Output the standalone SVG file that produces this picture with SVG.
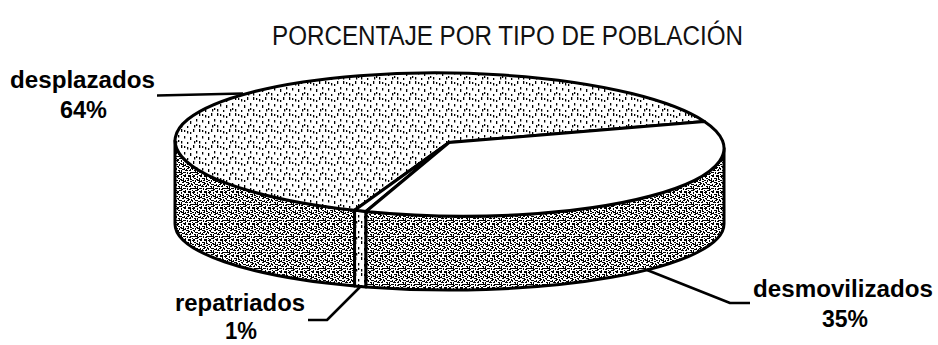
<svg xmlns="http://www.w3.org/2000/svg" width="938" height="345" viewBox="0 0 938 345">
<style>
.shape{stroke:#000;stroke-width:3;stroke-linejoin:round}
.lead{fill:none;stroke:#000;stroke-width:2.5;stroke-linejoin:round}
.lbl{font-family:"Liberation Sans",Arial,sans-serif;font-weight:bold;font-size:23px;fill:#000}
.title{font-family:"Liberation Sans",Arial,sans-serif;font-size:27px;fill:#111}
</style>
<defs>
<pattern id="dots" width="18" height="16" patternUnits="userSpaceOnUse">
<rect width="18" height="16" fill="#fff"/>
<path fill="#000" d="M1 1h1.3v3h-1.3z M7 3h1.3v2.5h-1.3z M13 1h1.3v3h-1.3z M4 8h1.3v2.5h-1.3z M10 9h1.3v3h-1.3z M16 7h1.3v2.5h-1.3z M1 13h1.3v2.5h-1.3z M7 14h1.3v2h-1.3z M14 13h1.3v2.5h-1.3z M10 4h1.3v2h-1.3z M16 12h1.3v2h-1.3z M4 2h1.3v2h-1.3z"/>
</pattern>
<pattern id="noise" width="16" height="16" patternUnits="userSpaceOnUse">
<rect width="16" height="16" fill="#fff"/>
<path fill="#000" d="M0 0h3v1h-3z M5 0h1v2h-1z M8 0h2v1h-2z M12 0h3v1h-3z M2 2h2v1h-2z M7 2h1v2h-1z M10 2h3v1h-3z M14 1h1v3h-1z M0 4h2v1h-2z M3 4h1v2h-1z M5 4h3v1h-3z M9 4h1v2h-1z M11 4h2v1h-2z M1 6h2v1h-2z M6 6h2v1h-2z M10 6h3v1h-3z M14 5h2v1h-2z M0 8h1v2h-1z M3 8h3v1h-3z M8 8h1v2h-1z M11 8h2v1h-2z M15 7h1v2h-1z M2 10h2v1h-2z M5 10h1v2h-1z M9 10h3v1h-3z M13 10h2v1h-2z M0 12h3v1h-3z M7 12h2v1h-2z M11 12h1v2h-1z M14 12h2v1h-2z M3 14h3v1h-3z M6 13h1v1h-1z M9 14h1v2h-1z M12 15h3v1h-3z M1 15h2v1h-2z M1 1h1v1h-1z M4 3h2v1h-2z M12 3h1v1h-1z M7 5h2v1h-2z M2 7h1v1h-1z M12 7h2v1h-2z M6 9h2v1h-2z M10 9h1v1h-1z M14 9h1v1h-1z M3 11h1v2h-1z M9 12h1v1h-1z M5 13h1v1h-1z M13 13h2v1h-2z M7 15h2v1h-2z M0 14h1v1h-1z M15 3h1v1h-1z M4 12h2v1h-2z"/>
</pattern>
</defs>
<rect width="938" height="345" fill="#fff"/>
<text class="title" x="507.5" y="45" text-anchor="middle" textLength="471" lengthAdjust="spacingAndGlyphs">PORCENTAJE POR TIPO DE POBLACIÓN</text>

<g id="slice-desplazados">
<path class="shape" fill="url(#noise)" d="M354.6,210.3 A274.5,71.5 0.85 0 1 175,140.7 L175,224 A274.5,66 0 0 0 354.6,285.9 Z"/>
<path class="shape" fill="url(#dots)" d="M449,142.5 L354.6,210.3 A274.5,71.5 0.85 1 1 704.4,121.5 Z"/>
<text class="lbl" x="10" y="88" textLength="145" lengthAdjust="spacingAndGlyphs">desplazados</text>
<text class="lbl" x="60" y="118" textLength="47" lengthAdjust="spacingAndGlyphs">64%</text>
</g>

<g id="slice-repatriados">
<path class="shape" fill="url(#dots)" d="M366,211.5 A274.5,71.5 0.85 0 1 354.6,210.3 L354.6,285.9 A274.5,66 0 0 0 366,286.9 Z"/>
<path class="shape" fill="#fff" d="M449,142.5 L366,211.5 A274.5,71.5 0.85 0 1 354.6,210.3 Z"/>
<text class="lbl" x="175" y="311" textLength="130" lengthAdjust="spacingAndGlyphs">repatriados</text>
<text class="lbl" x="225" y="339" textLength="32" lengthAdjust="spacingAndGlyphs">1%</text>
</g>

<g id="slice-desmovilizados">
<path class="shape" fill="url(#noise)" d="M724,148.3 A274.5,71.5 0.85 0 1 366,211.5 L366,286.9 A274.5,66 0 0 0 724,224 Z"/>
<path class="shape" fill="#fff" d="M449,142.5 L704.4,121.5 A274.5,71.5 0.85 0 1 366,211.5 Z"/>
<text class="lbl" x="753" y="297" textLength="180" lengthAdjust="spacingAndGlyphs">desmovilizados</text>
<text class="lbl" x="822" y="327" textLength="46" lengthAdjust="spacingAndGlyphs">35%</text>
</g>

<g id="connectors">
<path class="lead" d="M157,95.5 L243,93.5"/>
<path class="lead" d="M308,320 L327,320 L360,287"/>
<path class="lead" d="M647,270 L730,303 L750,303"/>
</g>
</svg>
